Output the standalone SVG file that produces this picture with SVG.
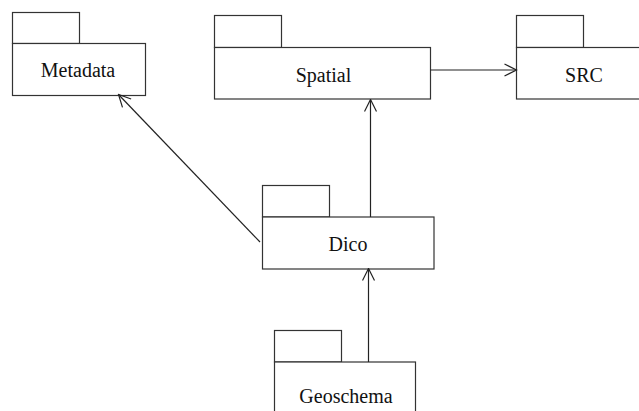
<svg xmlns="http://www.w3.org/2000/svg" width="639" height="411" viewBox="0 0 639 411">
  <defs>
    <style>
      .pkg { fill: #ffffff; stroke: #333333; stroke-width: 1.2; }
      .label { font-family: "Liberation Serif", "Times New Roman", serif; font-size: 20px; fill: #111111; text-anchor: middle; }
      .dep { fill: none; stroke: #222222; stroke-width: 1.2; }
    </style>
    <marker id="open" viewBox="0 0 14 14" refX="13" refY="7" markerWidth="14" markerHeight="14" markerUnits="userSpaceOnUse" orient="auto">
      <path d="M1,1 L13,7 L1,13" fill="none" stroke="#222222" stroke-width="1.2"/>
    </marker>
  </defs>
  <rect width="639" height="411" fill="#ffffff"/>

  <!-- packages -->
  <g id="metadata">
    <rect class="pkg" x="12.5" y="12.5" width="67" height="31"/>
    <rect class="pkg" x="12.5" y="43.5" width="133" height="52"/>
    <text class="label" x="78" y="77">Metadata</text>
  </g>
  <g id="spatial">
    <rect class="pkg" x="214.5" y="15.5" width="67" height="32"/>
    <rect class="pkg" x="214.5" y="47.5" width="216" height="51.5"/>
    <text class="label" x="323.5" y="81.5">Spatial</text>
  </g>
  <g id="src">
    <rect class="pkg" x="516.5" y="15.5" width="67" height="32"/>
    <rect class="pkg" x="516.5" y="47.5" width="130" height="51.5"/>
    <text class="label" x="584" y="81.5">SRC</text>
  </g>
  <g id="dico">
    <rect class="pkg" x="262.5" y="185.5" width="67" height="31.5"/>
    <rect class="pkg" x="262.5" y="217" width="171.5" height="52"/>
    <text class="label" x="348" y="251">Dico</text>
  </g>
  <g id="geoschema">
    <rect class="pkg" x="274.5" y="330.5" width="67" height="31.5"/>
    <rect class="pkg" x="274.5" y="362" width="141" height="60"/>
    <text class="label" x="346" y="403">Geoschema</text>
  </g>

  <!-- dependencies -->
  <g id="connectors">
    <line class="dep" x1="430.5" y1="70" x2="516.5" y2="70" marker-end="url(#open)"/>
    <line class="dep" x1="370.5" y1="217" x2="370.5" y2="99.5" marker-end="url(#open)"/>
    <line class="dep" x1="368.5" y1="362" x2="368.5" y2="268.5" marker-end="url(#open)"/>
    <line class="dep" x1="260" y1="242" x2="118.5" y2="94.5" marker-end="url(#open)"/>
  </g>
</svg>
